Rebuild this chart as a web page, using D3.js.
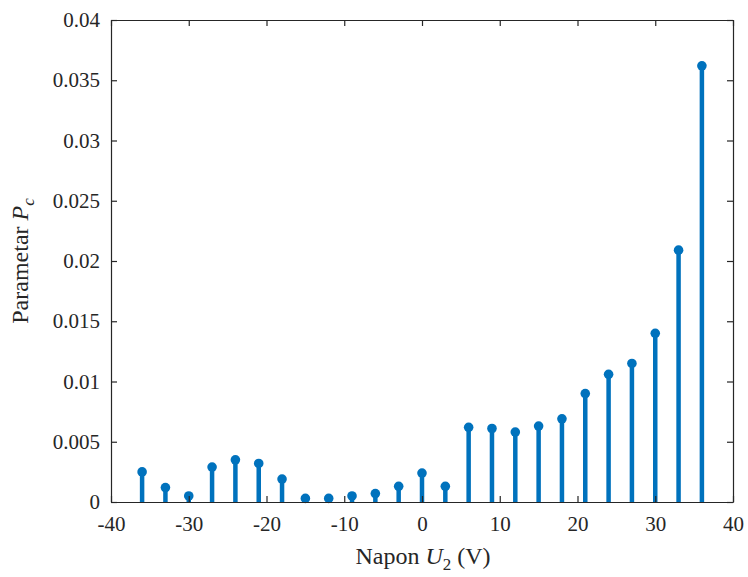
<!DOCTYPE html>
<html>
<head>
<meta charset="utf-8">
<script src="https://cdn.jsdelivr.net/npm/d3@7/dist/d3.min.js"></script>
<style>
  html, body { margin: 0; padding: 0; background: #fff; }
  svg { display: block; }
  text { font-family: "Liberation Serif", "Times New Roman", serif; fill: #262626; }
</style>
</head>
<body>
<svg id="chart" width="748" height="577"></svg>
<script>
// Data
const voltages = [-36, -33, -30, -27, -24, -21, -18, -15, -12, -9, -6, -3, 0, 3, 6, 9, 12, 15, 18, 21, 24, 27, 30, 33, 36];
const pcValues = [0.0025, 0.0012, 0.0005, 0.0029, 0.0035, 0.0032, 0.0019, 0.0003, 0.0003, 0.0005, 0.0007, 0.0013, 0.0024,
                  0.0013, 0.0062, 0.0061, 0.0058, 0.0063, 0.0069, 0.0090, 0.0106, 0.0115, 0.0140, 0.0209, 0.0362];
const xTicks = [-40, -30, -20, -10, 0, 10, 20, 30, 40];
const yTicks = [0, 0.005, 0.01, 0.015, 0.02, 0.025, 0.03, 0.035, 0.04];

const svg = d3.select("#chart");
const margin = { left: 111, right: 15, top: 20, bottom: 75 };
const W = 748, H = 577;
const x = d3.scaleLinear().domain([-40, 40]).range([margin.left, W - margin.right]);
const y = d3.scaleLinear().domain([0, 0.04]).range([H - margin.bottom, margin.top]);

const color = "#0072BD";
const axisColor = "#262626";
const serif = '"Liberation Serif", "Times New Roman", serif';
const data = voltages.map((v, i) => ({ v, p: pcValues[i] }));

// Stems
svg.append("g").selectAll("line").data(data).enter().append("line")
  .attr("x1", d => x(d.v)).attr("x2", d => x(d.v))
  .attr("y1", y(0)).attr("y2", d => y(d.p))
  .attr("stroke", color).attr("stroke-width", 4.5);

// Markers
svg.append("g").selectAll("circle").data(data).enter().append("circle")
  .attr("cx", d => x(d.v)).attr("cy", d => y(d.p))
  .attr("r", 4.8).attr("fill", color);

// Axes (box with inward ticks)
const tickLen = 6;
const fmtY = d => d === 0 ? "0" : String(+d.toFixed(3));

const xAxisB = d3.axisBottom(x).tickValues(xTicks).tickSizeInner(-tickLen).tickSizeOuter(0).tickPadding(14).tickFormat(d => d);
const xAxisT = d3.axisTop(x).tickValues(xTicks).tickSizeInner(-tickLen).tickSizeOuter(0).tickFormat("");
const yAxisL = d3.axisLeft(y).tickValues(yTicks).tickSizeInner(-tickLen).tickSizeOuter(0).tickPadding(11).tickFormat(fmtY);
const yAxisR = d3.axisRight(y).tickValues(yTicks).tickSizeInner(-tickLen).tickSizeOuter(0).tickFormat("");

function style(g) {
  g.attr("font-family", null);
  g.selectAll("path").attr("stroke", axisColor).attr("stroke-width", 1.2);
  g.selectAll("line").attr("stroke", axisColor).attr("stroke-width", 1.2);
  g.selectAll("text").style("font-size", "21px").style("font-family", serif).style("fill", axisColor);
}
svg.append("g").attr("transform", `translate(0,${y(0)})`).call(xAxisB).call(style);
svg.append("g").attr("transform", `translate(0,${y(0.04)})`).call(xAxisT).call(style);
svg.append("g").attr("transform", `translate(${x(-40)},0)`).call(yAxisL).call(style);
svg.append("g").attr("transform", `translate(${x(40)},0)`).call(yAxisR).call(style);

// X axis title
const xt = svg.append("text").attr("x", (x(-40) + x(40)) / 2 + 1).attr("y", 564)
  .attr("text-anchor", "middle").style("font-size", "24px").style("font-family", serif);
xt.append("tspan").text("Napon ");
xt.append("tspan").attr("font-style", "italic").text("U");
xt.append("tspan").style("font-size", "17px").attr("dy", 6).text("2");
xt.append("tspan").attr("dy", -6).text(" (V)");

// Y axis title
const yt = svg.append("text")
  .attr("transform", `translate(28,${(y(0) + y(0.04)) / 2}) rotate(-90)`)
  .attr("text-anchor", "middle").style("font-size", "24px").style("font-family", serif);
yt.append("tspan").text("Parametar ");
yt.append("tspan").attr("font-style", "italic").text("P");
yt.append("tspan").attr("font-style", "italic").style("font-size", "17px").attr("dy", 6).text("c");
</script>
</body>
</html>
